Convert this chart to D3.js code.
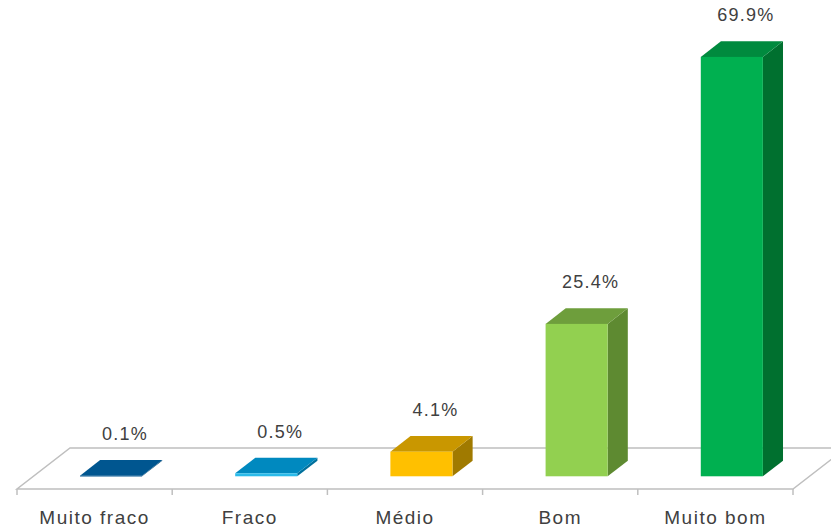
<!DOCTYPE html>
<html>
<head>
<meta charset="utf-8">
<script src="https://cdn.jsdelivr.net/npm/d3@7"></script>
<style>
  html, body { margin: 0; padding: 0; background: #ffffff; }
  svg { display: block; }
</style>
</head>
<body>
<svg id="chart" width="831" height="531"></svg>
<script>
// Categories and their percentages
const categories = ["Muito fraco", "Fraco", "Médio", "Bom", "Muito bom"];
const values = [0.1, 0.5, 4.1, 25.4, 69.9];
const valueLabels = ["0.1%", "0.5%", "4.1%", "25.4%", "69.9%"];

// Face colours per bar: front, top, side
const frontColors = ["#00558f", "#2bbbea", "#ffc000", "#92d050", "#00b050"];
const topColors   = ["#005690", "#0089bf", "#c99700", "#6e9e3c", "#008a3e"];
const sideColors  = ["#004570", "#00709c", "#a07a00", "#5e8a31", "#00702f"];

const svg = d3.select("#chart");

// Floor geometry (oblique projection)
const floorFrontY = 489;
const depthDX = 53, depthDY = -41;      // full floor depth offset
const barDepthStart = 0.31, barDepthEnd = 0.69;

const x = d3.scaleBand().domain(categories).range([17, 793]).paddingInner(0).paddingOuter(0);
const barBaseY = floorFrontY + depthDY * barDepthStart;
const y = d3.scaleLinear().domain([0, 70]).range([barBaseY, barBaseY - 420]);

const floorColor = "#bfbfbf";
const x0 = x.range()[0], x1 = x.range()[1];

// Floor: white top surface with grey outline
svg.append("polygon")
  .attr("points", [[x0, floorFrontY], [x1, floorFrontY], [x1 + depthDX, floorFrontY + depthDY], [x0 + depthDX, floorFrontY + depthDY]].map(p => p.join(",")).join(" "))
  .attr("fill", "#ffffff")
  .attr("stroke", floorColor)
  .attr("stroke-width", 1.5);

// Category tick marks below the floor front edge
const tickXs = categories.map(c => x(c)).concat([x1]);
svg.selectAll("line.tick")
  .data(tickXs)
  .join("line")
  .attr("class", "tick")
  .attr("x1", d => d).attr("x2", d => d)
  .attr("y1", floorFrontY).attr("y2", floorFrontY + 6)
  .attr("stroke", floorColor)
  .attr("stroke-width", 1.5);

// Bars as 3D boxes
const barFrac = 0.4;
const bw = x.bandwidth() * barFrac;
const fdx = depthDX * barDepthStart, fdy = depthDY * barDepthStart;
const bdx = depthDX * (barDepthEnd - barDepthStart), bdy = depthDY * (barDepthEnd - barDepthStart);

const bars = svg.selectAll("g.bar")
  .data(categories.map((c, i) => ({ c, v: values[i], i })))
  .join("g")
  .attr("class", "bar");

const pts = a => a.map(p => p.join(",")).join(" ");

bars.each(function(d) {
  const g = d3.select(this);
  const cx = x(d.c) + x.bandwidth() / 2 + fdx;
  const left = cx - bw / 2, right = cx + bw / 2;
  const bottom = barBaseY, top = y(d.v);
  // side face
  g.append("polygon")
    .attr("points", pts([[right, bottom], [right + bdx, bottom + bdy], [right + bdx, top + bdy], [right, top]]))
    .attr("fill", sideColors[d.i]);
  // top face
  g.append("polygon")
    .attr("points", pts([[left, top], [right, top], [right + bdx, top + bdy], [left + bdx, top + bdy]]))
    .attr("fill", topColors[d.i]);
  // front face
  g.append("rect")
    .attr("x", left).attr("y", top)
    .attr("width", bw).attr("height", Math.max(bottom - top, 0.8))
    .attr("fill", frontColors[d.i]);
  // value label
  g.append("text")
    .attr("x", cx + 14)
    .attr("y", top + bdy - 20)
    .attr("text-anchor", "middle")
    .attr("font-family", "'Liberation Sans', Arial, sans-serif")
    .attr("font-size", 18)
    .attr("letter-spacing", 1.2)
    .attr("fill", "#404040")
    .text(valueLabels[d.i]);
});

// Category labels
svg.selectAll("text.cat")
  .data(categories)
  .join("text")
  .attr("class", "cat")
  .attr("x", d => x(d) + x.bandwidth() / 2)
  .attr("y", 524)
  .attr("text-anchor", "middle")
  .attr("font-family", "'Liberation Sans', Arial, sans-serif")
  .attr("font-size", 19)
  .attr("letter-spacing", 1.5)
  .attr("fill", "#404040")
  .text(d => d);
</script>
</body>
</html>
